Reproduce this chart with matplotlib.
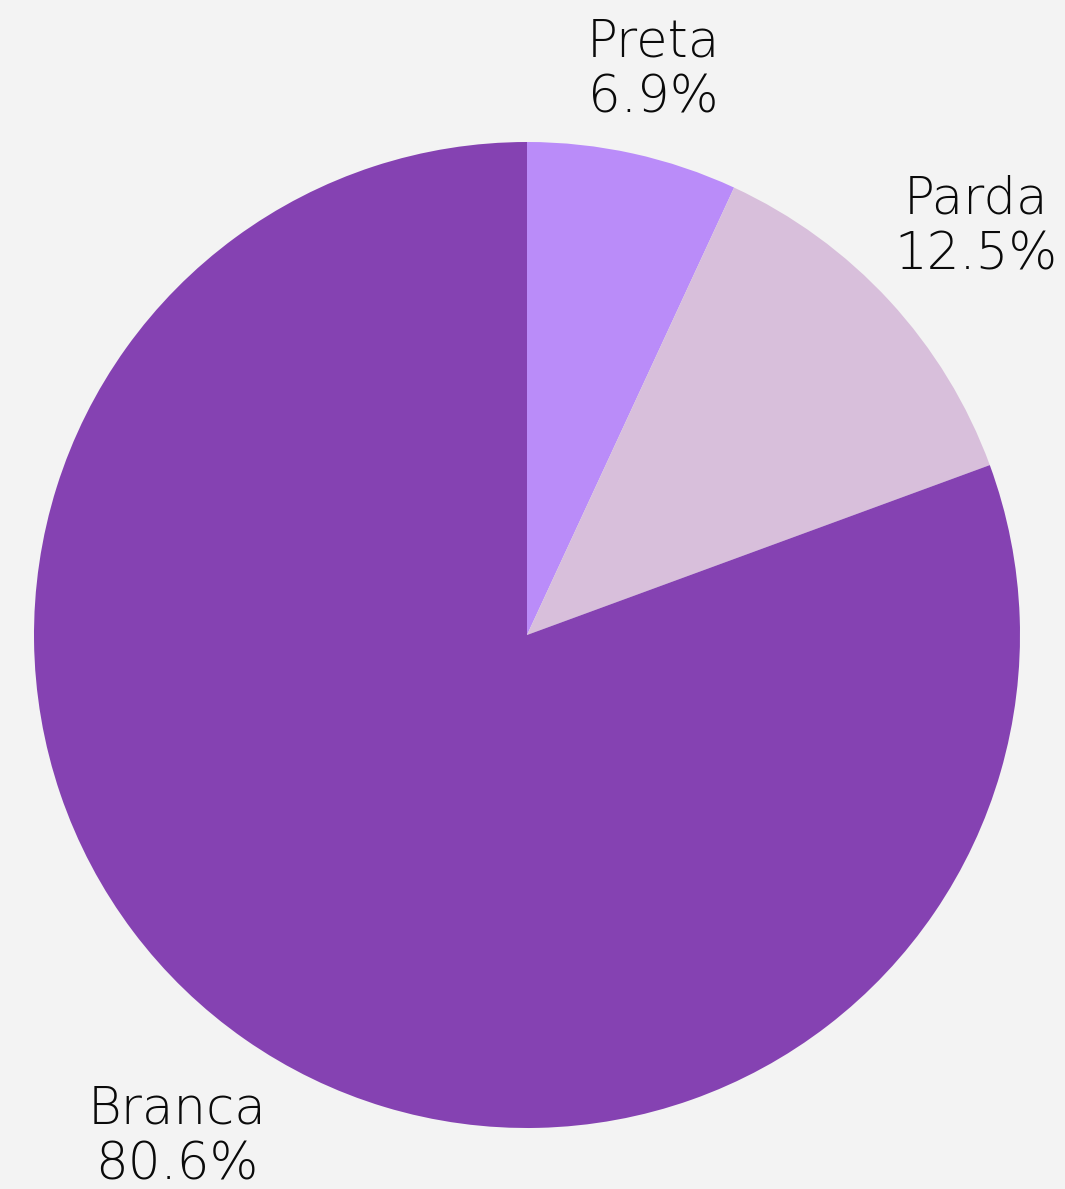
import matplotlib
matplotlib.use("Agg")
import matplotlib.pyplot as plt

categories = ["Preta", "Parda", "Branca"]
values = [6.9, 12.5, 80.6]
colors = ["#ba8cf9", "#d8bfdb", "#8542b2"]

W, H = 1065, 1189
fig = plt.figure(figsize=(W / 100, H / 100), dpi=100, facecolor="#f3f3f3")
ax = fig.add_axes([0, 0, 1, 1])
ax.set_facecolor("#f3f3f3")

cx, cy, r = 527, H - 635, 493
ax.pie(values, colors=colors, startangle=90, counterclock=False,
       center=(cx, cy), radius=r, wedgeprops=dict(linewidth=0),
       frame=True)
ax.set_xlim(0, W)
ax.set_ylim(0, H)
ax.set_aspect("equal")
ax.axis("off")

label_pos = [(653, H - 70), (976, H - 227), (177, H - 1137)]
for cat, v, (x, y) in zip(categories, values, label_pos):
    ax.text(x, y, f"{cat}\n{v:.1f}%", ha="center", va="center",
            fontsize=37, family=["DejaVu Sans"], fontweight="light",
            color="#0a0a0a", linespacing=1.17)

fig.savefig("out.png", dpi=100, facecolor=fig.get_facecolor())
